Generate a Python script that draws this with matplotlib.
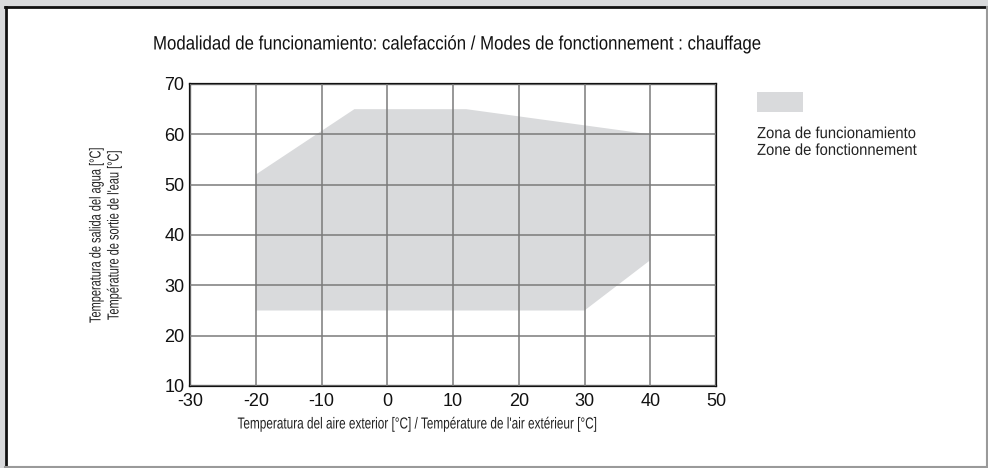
import matplotlib
matplotlib.use("Agg")
import matplotlib.pyplot as plt
from matplotlib.patches import Rectangle, Polygon
from matplotlib.lines import Line2D
from matplotlib.patheffects import AbstractPathEffect
from matplotlib.transforms import Affine2D

# Data
zone_x = [-20, -20, -5, 12, 40, 40, 30]
zone_y = [25, 52, 65, 65, 60, 35, 25]
x_ticks = [-30, -20, -10, 0, 10, 20, 30, 40, 50]
y_ticks = [10, 20, 30, 40, 50, 60, 70]
title = "Modalidad de funcionamiento: calefacción / Modes de fonctionnement : chauffage"
xlabel = "Temperatura del aire exterior [°C] / Température de l'air extérieur [°C]"
ylabel = "Temperatura de salida del agua [°C]\nTempérature de sortie de l'eau [°C]"
legend_label = "Zona de funcionamiento\nZone de fonctionnement"


class Squeeze(AbstractPathEffect):
    """Condense glyphs along the text direction around an anchor (display px)."""

    def __init__(self, factor, x0=None, y0=None):
        super().__init__()
        self.factor = factor
        self.x0 = x0
        self.y0 = y0

    def draw_path(self, renderer, gc, tpath, affine, rgbFace=None):
        if self.x0 is not None:
            extra = Affine2D().translate(-self.x0, 0).scale(self.factor, 1).translate(self.x0, 0)
        else:
            extra = Affine2D().translate(0, -self.y0).scale(1, self.factor).translate(0, self.y0)
        renderer.draw_path(gc, tpath, affine + extra, rgbFace)


W, H = 988, 468
fig = plt.figure(figsize=(W / 100, H / 100), dpi=100)
fig.patch.set_facecolor("#d9dadc")


def fx(px):
    return px / W


def fy(py):
    return 1 - py / H


# white panel with frame
fig.add_artist(Rectangle((fx(5), fy(467)), fx(983), 460 / H, transform=fig.transFigure,
                         facecolor="white", edgecolor="none", zorder=0))
fig.add_artist(Line2D([fx(5), fx(987)], [fy(7), fy(7)], transform=fig.transFigure, color="#111111", lw=2))
fig.add_artist(Line2D([fx(5.5), fx(5.5)], [fy(7), fy(467)], transform=fig.transFigure, color="#111111", lw=2))
fig.add_artist(Line2D([fx(987), fx(987)], [fy(7), fy(467)], transform=fig.transFigure, color="#9a9a9a", lw=1.5))
fig.add_artist(Line2D([fx(5), fx(987)], [fy(467), fy(467)], transform=fig.transFigure, color="#9a9a9a", lw=1.5))

ax = fig.add_axes([fx(190), fy(386), (716 - 190) / W, (386 - 84) / H])
ax.set_xlim(-30, 50)
ax.set_ylim(10, 70)
ax.add_patch(Polygon(list(zip(zone_x, zone_y)), closed=True, facecolor="#d9dadc", edgecolor="none", zorder=1))
ax.set_xticks(x_ticks)
ax.set_yticks(y_ticks)
ax.set_xticklabels([str(v) for v in x_ticks])
ax.set_yticklabels([str(v) for v in y_ticks])
ax.grid(True, color="#7a7a7a", lw=1.1, zorder=2)
ax.set_axisbelow(False)
ax.tick_params(axis="x", length=0, labelsize=13, pad=5, colors="#111111")
ax.tick_params(axis="y", length=0, labelsize=13, pad=4, colors="#111111")
for lab in ax.get_xticklabels() + ax.get_yticklabels():
    lab.set_family("Liberation Sans")
for s in ax.spines.values():
    s.set_color("#111111")
    s.set_linewidth(1.6)

FONT = "Liberation Sans"
t_title = fig.text(fx(153), fy(45), title, fontsize=14, family=FONT, color="#111111", va="center", ha="left")
t_x = fig.text(fx(418), fy(424), xlabel, fontsize=11.5, family=FONT, color="#222222", va="center", ha="center")
t_y = fig.text(fx(105), fy(235), ylabel, fontsize=11.5, family=FONT, color="#222222", va="center", ha="center",
               rotation=90, linespacing=1.25)
fig.add_artist(Rectangle((fx(757), fy(112)), 46 / W, 20 / H, transform=fig.transFigure,
                         facecolor="#d9dadc", edgecolor="none"))
t_leg = fig.text(fx(757), fy(142), legend_label, fontsize=11.5, family=FONT, color="#222222", va="center",
                 ha="left", linespacing=1.15)

# condense the labels to the reference's narrow typeface widths
renderer = fig.canvas.get_renderer()
for t, target, anchor_x, vertical in [(t_title, 612, 153, False), (t_x, 361, 418, False),
                                      (t_y, 176, 235, True), (t_leg, 160, 757, False)]:
    bb = t.get_window_extent(renderer)
    if vertical:
        f = target / bb.height
        t.set_path_effects([Squeeze(f, y0=H - anchor_x)])
    else:
        f = target / bb.width
        t.set_path_effects([Squeeze(f, x0=anchor_x)])

fig.savefig("out.png", dpi=100, facecolor=fig.get_facecolor())
